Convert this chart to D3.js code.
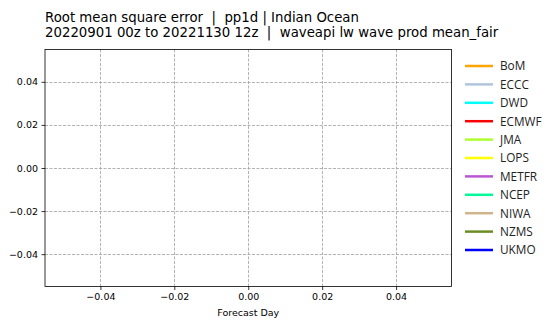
<!DOCTYPE html>
<html><head><meta charset="utf-8">
<script src="https://cdn.jsdelivr.net/npm/d3@7"></script>
<style>body{margin:0;background:#fff}svg{display:block}text{white-space:pre}</style>
</head><body>
<svg id="c" width="547" height="320"></svg>
<script>
const titleLines = ["Root mean square error  |  pp1d | Indian Ocean",
                    "20220901 00z to 20221130 12z  |  waveapi lw wave prod mean_fair"];
const xLabel = "Forecast Day";
const xDomain = [-0.055, 0.055];
const yDomain = [-0.055, 0.055];
const xTicks = [-0.04, -0.02, 0.00, 0.02, 0.04];
const yTicks = [-0.04, -0.02, 0.00, 0.02, 0.04];
const seriesNames = ["BoM","ECCC","DWD","ECMWF","JMA","LOPS","METFR","NCEP","NIWA","NZMS","UKMO"];
const seriesColors = ["#ffa500","#b0c4de","#00ffff","#ff0000","#adff2f","#ffff00","#ba55d3","#00fa9a","#d2b48c","#6b8e23","#0000ff"];

const svg = d3.select("#c");
const m = {l:45, r:451.5, t:49.5, b:286.5};
const x = d3.scaleLinear().domain(xDomain).range([m.l, m.r]);
const y = d3.scaleLinear().domain(yDomain).range([m.b, m.t]);

// grid
const g = svg.append("g");
g.selectAll(".gx").data(xTicks).join("line")
  .attr("x1", d=>Math.round(x(d))+0.5).attr("x2", d=>Math.round(x(d))+0.5)
  .attr("y1", m.t).attr("y2", m.b)
  .attr("stroke", "#a0a0a0").attr("stroke-width", 0.8).attr("stroke-dasharray", "3,1.5");
g.selectAll(".gy").data(yTicks).join("line")
  .attr("y1", d=>Math.round(y(d))+0.5).attr("y2", d=>Math.round(y(d))+0.5)
  .attr("x1", m.l).attr("x2", m.r)
  .attr("stroke", "#a0a0a0").attr("stroke-width", 0.8).attr("stroke-dasharray", "3,1.5");

const fmt = d => d3.format(".2f")(d).replace("-", "\u2212");
const xa = svg.append("g").attr("transform", `translate(0,${m.b})`)
  .call(d3.axisBottom(x).tickValues(xTicks).tickFormat(fmt).tickSize(3.5).tickPadding(3.5));
const ya = svg.append("g").attr("transform", `translate(${m.l},0)`)
  .call(d3.axisLeft(y).tickValues(yTicks).tickFormat(fmt).tickSize(3.5).tickPadding(3.5));
[xa, ya].forEach(a => {
  a.select(".domain").remove();
  a.selectAll("text").attr("font-family","DejaVu Sans").attr("font-size", 9.5).attr("fill","#000");
  a.selectAll("line").attr("stroke","#000").attr("stroke-width",0.8);
});

svg.append("rect").attr("x", m.l).attr("y", m.t).attr("width", m.r-m.l).attr("height", m.b-m.t)
  .attr("fill","none").attr("stroke","#000").attr("stroke-width",0.8);

svg.append("text").attr("x", (m.l+m.r)/2).attr("y", 315.5)
  .attr("text-anchor","middle").attr("font-family","DejaVu Sans").attr("font-size",9.5).text(xLabel);

svg.append("g").selectAll("text").data(titleLines).join("text")
  .attr("x", 45).attr("y", (d,i)=> 21.5 + i*15.5)
  .attr("font-family","DejaVu Sans").attr("font-size", 13.3).attr("fill","#000").text(d=>d);

// legend
const lg = svg.append("g");
const row = lg.selectAll("g").data(seriesNames).join("g")
  .attr("transform", (d,i)=>`translate(0,${66 + i*18.4})`);
row.append("line").attr("x1",465).attr("x2",493).attr("y1",0).attr("y2",0)
  .attr("stroke",(d,i)=>seriesColors[i]).attr("stroke-width",2.5);
row.append("text").attr("x",500).attr("y",4.4)
  .attr("font-family","Open Sans").style("font-size","11.8px").attr("fill","#222").text(d=>d);
</script>
</body></html>
